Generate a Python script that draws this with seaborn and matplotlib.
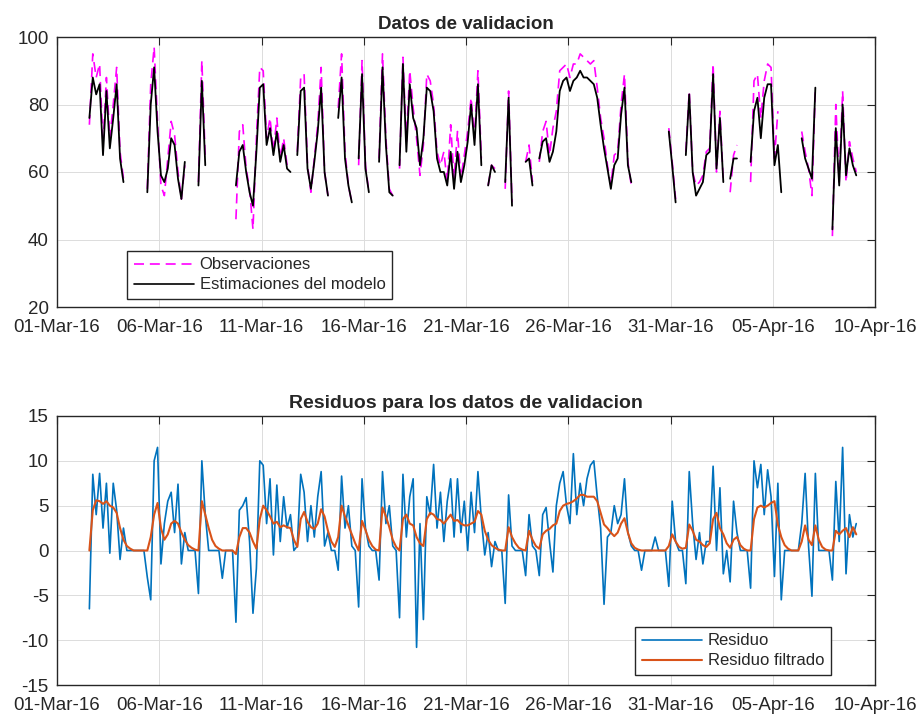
import numpy as np
import pandas as pd
import matplotlib
matplotlib.use("Agg")
import matplotlib.pyplot as plt
import matplotlib.dates as mdates
from matplotlib.lines import Line2D
import seaborn as sns

nan = np.nan

# ---------------- data (4-hour samples) ----------------
start_time = "2016-03-02 14:00"
step = "4h"

observaciones = [
    74, 95, 88, 92, 68, 88, 70, 80, 91, 66,
    58, nan, nan, nan, nan, nan, nan, 55, 86, 97,
    75, 56, 53, 64, 75, 71, 60, 52, 62, nan,
    nan, nan, 57, 93, 64, nan, nan, nan, nan, 58,
    nan, nan, nan, 46, 72, 74, 61, 55, 43, 70,
    91, 90, 70, 76, 66, 76, 64, 70, 62, 62,
    nan, 66, 88, 89, 62, 54, 64, 74, 91, 60,
    53, nan, nan, 79, 95, 66, 56, 51, nan, 62,
    93, 62, 54, nan, nan, 64, 95, 70, 55, 53,
    nan, 61, 94, 69, 90, 79, 70, 59, 68, 89,
    87, 80, 66, 62, 66, 57, 74, 58, 72, 58,
    65, 72, 82, 70, 90, 64, nan, 56, 62, 61,
    nan, nan, 55, 84, 51, nan, nan, nan, 63, 68,
    57, nan, 63, 72, 75, 65, 73, 78, 90, 91,
    92, 88, 92, 92, 95, 94, 93, 92, 93, 85,
    76, 70, 62, 56, 65, 66, 80, 89, 63, 56,
    nan, nan, 58, nan, nan, nan, 60, nan, nan, nan,
    73, 63, 52, nan, nan, 66, 84, 60, 56, 57,
    59, 66, 67, 92, 60, 78, 57, nan, 54, 65,
    68, nan, nan, nan, 57, 87, 89, 76, 87, 92,
    91, 64, 78, nan, nan, nan, nan, nan, nan, 72,
    66, 61, 53, 85, nan, nan, nan, nan, 41, 80,
    57, 84, 57, 69, 64, 60,
]

estimaciones = [
    76, 88, 83, 86, 65, 84, 67, 76, 86, 64,
    57, nan, nan, nan, nan, nan, nan, 54, 80, 91,
    72, 59, 57, 61, 70, 68, 58, 52, 63, nan,
    nan, nan, 56, 87, 62, nan, nan, nan, nan, nan,
    nan, nan, nan, 56, 66, 68, 60, 54, 50, 66,
    85, 86, 68, 73, 65, 72, 63, 68, 61, 60,
    nan, 65, 84, 85, 61, 55, 63, 72, 85, 60,
    53, nan, nan, 76, 88, 64, 56, 51, nan, 64,
    89, 61, 54, nan, nan, 63, 91, 68, 54, 53,
    nan, 62, 92, 66, 86, 76, 73, 62, 70, 85,
    84, 78, 64, 60, 60, 56, 66, 55, 66, 57,
    62, 69, 80, 68, 86, 62, nan, 56, 62, 60,
    nan, nan, 57, 82, 50, nan, nan, nan, 63, 64,
    56, nan, 64, 69, 70, 63, 66, 72, 84, 87,
    88, 84, 87, 88, 90, 88, 88, 87, 86, 82,
    74, 67, 61, 55, 62, 64, 77, 85, 62, 57,
    nan, nan, nan, nan, nan, nan, 60, nan, nan, nan,
    72, 62, 51, nan, nan, 65, 83, 60, 53, 55,
    57, 65, 66, 89, 61, 76, 57, nan, 58, 64,
    64, nan, nan, nan, 63, 78, 82, 70, 82, 86,
    86, 62, 68, 54, nan, nan, nan, nan, nan, 70,
    64, 61, 58, 85, nan, nan, nan, nan, 43, 73,
    56, 80, 59, 67, 62, 59,
]

residuo = [
    -6.5, 8.5, 4, 8.6, 2.5, 7.5, -0.3, 7.5, 4.5, -1.0,
    2.5, 0, 0, 0, 0, 0, 0, -3, -5.5, 10,
    11.5, -1.5, 3, 5.5, 6.5, 2, 7.4, -1.5, 2, 0,
    0, 0, -4.8, 10, 4, 0, 0, 0, 0, -3.1,
    0, 0, 0, -8, 4.5, 5, 5.9, 1, -7, -2,
    10, 9.5, 3, 8, -0.5, 7.3, 1, 6, 2.5, 4,
    0, 0.5, 8.5, 6.5, 1, 5, 1.5, 6, 8.8, 0.5,
    2, 0, 0, -2.2, 8.3, 2.5, 5, 0.5, 0, -6.3,
    8, 2.5, 0.5, 0, 0, -3.3, 8.8, 3, 5, 0.5,
    0, -7.5, 8.5, 1.5, 6, 8, -10.8, 3, -7.7, 6,
    4, 9.6, 2.5, 6.5, 1, 5.5, 8, 1.5, 8, 2,
    5.5, 0, 6.5, 2, 8.8, 3.5, -0.5, 2, -1.8, 1,
    0, 0, -5.9, 6.2, 0.5, 0, 0, 0, -2.8, 4,
    0.5, 0, -2.8, 4, 4.8, 1, -2.4, 5, 7.5, 8.8,
    5, 3, 10.8, 4, 7.5, 5, 8, 9.5, 10, 6,
    2.5, -6, 1.5, 2, 5, 3, 4, 8, 2, 0.5,
    0, 0, -2.2, 0, 0, 0, 1.5, 0, 0, 0,
    -4, 5.5, 1, 0, 0, -3.7, 8.8, 3, -1, 2,
    -1.5, 1, 1, 9.4, 0, 7, -2.6, 0, -3.5, 5.5,
    2, 0, 0, 0, -4.2, 10, 7, 9.6, 4, 9,
    6, -2.9, 7.5, -5.5, 0, 0, 0, 0, 0, 3,
    8.6, 0.5, -5.1, 8.6, 0, 0, 0, 0, -3.3, 7.7,
    1, 11.5, -2.6, 4, 1.5, 3,
]

residuo_filtrado = [
    0, 4.5, 5.6, 5.5, 5.2, 5.5, 5.0, 4.8, 4.2, 2.5,
    1.2, 0.5, 0.2, 0, 0, 0, 0, 0, 1.5, 4.0,
    5.3, 2.5, 1.2, 1.8, 3.0, 3.3, 3.0, 2.0, 1.2, 0.6,
    0.3, 0.1, 0, 5.5, 4.0, 2.5, 1.2, 0.5, 0.2, 0,
    0, 0, 0, -0.4, 1.5, 2.5, 2.5, 2.0, 1.0, 0.2,
    3.5, 5.0, 4.5, 3.8, 3.0, 3.2, 2.6, 2.8, 2.6, 2.5,
    1.2, 0.4, 3.5, 4.3, 3.2, 2.6, 2.4, 3.0, 4.6, 3.8,
    2.2, 1.0, 0.4, 1.5, 5.0, 3.8, 2.8, 1.8, 0.8, 0,
    3.3, 2.3, 1.2, 0.5, 0.1, 0, 4.8, 3.8, 2.6, 1.2,
    0.4, 0, 3.5, 4.0, 3.0, 2.8, 1.5, 0.8, 0.5, 3.5,
    4.2, 4.0, 3.5, 3.4, 3.0, 3.5, 4.0, 3.3, 3.4, 3.0,
    2.8, 2.8, 3.0, 3.2, 4.4, 4.0, 2.2, 1.2, 0.6, 0.3,
    0.1, 0, 0, 2.6, 1.5, 0.8, 0.3, 0.1, 0, 2.2,
    1.2, 0.5, 0.2, 1.8, 2.2, 2.4, 2.8, 3.0, 4.4, 5.0,
    5.2, 5.3, 5.5, 5.8, 6.2, 6.2, 6.0, 6.0, 6.0, 5.5,
    4.2, 2.9, 2.5, 2.0, 1.6, 2.0, 3.0, 3.6, 2.0, 0.8,
    0.3, 0.1, 0, 0, 0, 0, 0, 0, 0, 0,
    0.5, 1.8, 1.0, 0.4, 0.2, 0.3, 2.9, 2.2, 1.2, 1.0,
    0.6, 0.4, 0.8, 3.5, 4.2, 2.5, 1.8, 0.8, 0.3, 1.2,
    1.5, 0.6, 0.2, 0, 0, 3.5, 4.8, 5.0, 4.8, 5.0,
    5.3, 5.5, 2.9, 1.5, 0.6, 0.2, 0, 0, 0, 1.0,
    2.8, 1.2, 0.6, 2.8, 1.2, 0.4, 0.1, 0, 0, 2.2,
    1.8, 2.2, 2.5, 1.5, 2.6, 1.8,
]

tick_dates = pd.date_range("2016-03-01", "2016-04-10", freq="5D")
top_yticks = [20, 40, 60, 80, 100]
bot_yticks = [-15, -10, -5, 0, 5, 10, 15]

# ---------------- frames ----------------
times = pd.date_range(start_time, periods=len(observaciones), freq=step)


def segmented(values):
    v = pd.Series(values, dtype=float)
    seg = v.isna().cumsum()
    df = pd.DataFrame({"t": times, "v": v, "seg": seg})
    return df.dropna(subset=["v"])


df_obs = segmented(observaciones)
df_est = segmented(estimaciones)
df_res = pd.DataFrame({"t": times, "v": residuo})
df_fil = pd.DataFrame({"t": times, "v": residuo_filtrado})

# ---------------- style ----------------
sns.set_theme(style="white")
plt.rcParams["font.family"] = ["Liberation Sans", "DejaVu Sans"]
plt.rcParams["axes.edgecolor"] = "#262626"
plt.rcParams["axes.unicode_minus"] = False

MAGENTA = "#FF00FF"
BLUE = "#0072BD"
ORANGE = "#D95319"

fig = plt.figure(figsize=(9.23, 7.18), dpi=100)
ax1 = fig.add_axes([57 / 923, 1 - 307 / 718, 818 / 923, 270 / 718])
ax2 = fig.add_axes([57 / 923, 1 - 685 / 718, 818 / 923, 269 / 718])

sns.lineplot(data=df_obs, x="t", y="v", units="seg", estimator=None,
             color=MAGENTA, linewidth=1.2, linestyle=(0, (6, 3.5)),
             legend=False, ax=ax1)
sns.lineplot(data=df_est, x="t", y="v", units="seg", estimator=None,
             color="black", linewidth=1.3, legend=False, ax=ax1)

sns.lineplot(data=df_res, x="t", y="v", estimator=None,
             color=BLUE, linewidth=1.2, legend=False, ax=ax2)
sns.lineplot(data=df_fil, x="t", y="v", estimator=None,
             color=ORANGE, linewidth=1.5, legend=False, ax=ax2)

for ax, yt in ((ax1, top_yticks), (ax2, bot_yticks)):
    ax.set_xlim(tick_dates[0], tick_dates[-1])
    ax.set_ylim(yt[0], yt[-1])
    ax.set_xticks(tick_dates)
    ax.set_yticks(yt)
    ax.xaxis.set_major_formatter(mdates.DateFormatter("%d-%b-%y"))
    ax.set_xlabel("")
    ax.set_ylabel("")
    ax.grid(True, color="#dcdcdc", linewidth=0.7)
    ax.set_axisbelow(True)
    ax.tick_params(axis="both", which="major", direction="in", length=6,
                   width=0.8, color="#262626", top=True, right=True,
                   labelsize=13.5, labelcolor="#262626")
    ax.tick_params(axis="x", pad=9)
    ax.tick_params(axis="y", pad=6)
    for s in ax.spines.values():
        s.set_linewidth(1.0)
        s.set_color("#262626")

ax1.set_title("Datos de validacion", fontsize=13.5, fontweight="bold", pad=6)
ax2.set_title("Residuos para los datos de validacion", fontsize=14,
              fontweight="bold", pad=6)

h1 = [Line2D([], [], color=MAGENTA, lw=1.2, ls=(0, (6, 3.5))),
      Line2D([], [], color="black", lw=1.2)]
leg1 = ax1.legend(h1, ["Observaciones", "Estimaciones del modelo"],
                  loc="lower left", bbox_to_anchor=(0.0856, 0.0296),
                  borderaxespad=0, fontsize=12, frameon=True, fancybox=False,
                  framealpha=1, edgecolor="#262626", handlelength=3.6,
                  handletextpad=0.35, borderpad=0.4, labelspacing=0.3)
leg1.get_frame().set_linewidth(1.0)

h2 = [Line2D([], [], color=BLUE, lw=1.2), Line2D([], [], color=ORANGE, lw=1.5)]
leg2 = ax2.legend(h2, ["Residuo", "Residuo filtrado"],
                  loc="lower right", bbox_to_anchor=(0.946, 0.037),
                  borderaxespad=0, fontsize=12, frameon=True, fancybox=False,
                  framealpha=1, edgecolor="#262626", handlelength=3.6,
                  handletextpad=0.35, borderpad=0.4, labelspacing=0.3)
leg2.get_frame().set_linewidth(1.0)

fig.savefig("out.png", dpi=100)
